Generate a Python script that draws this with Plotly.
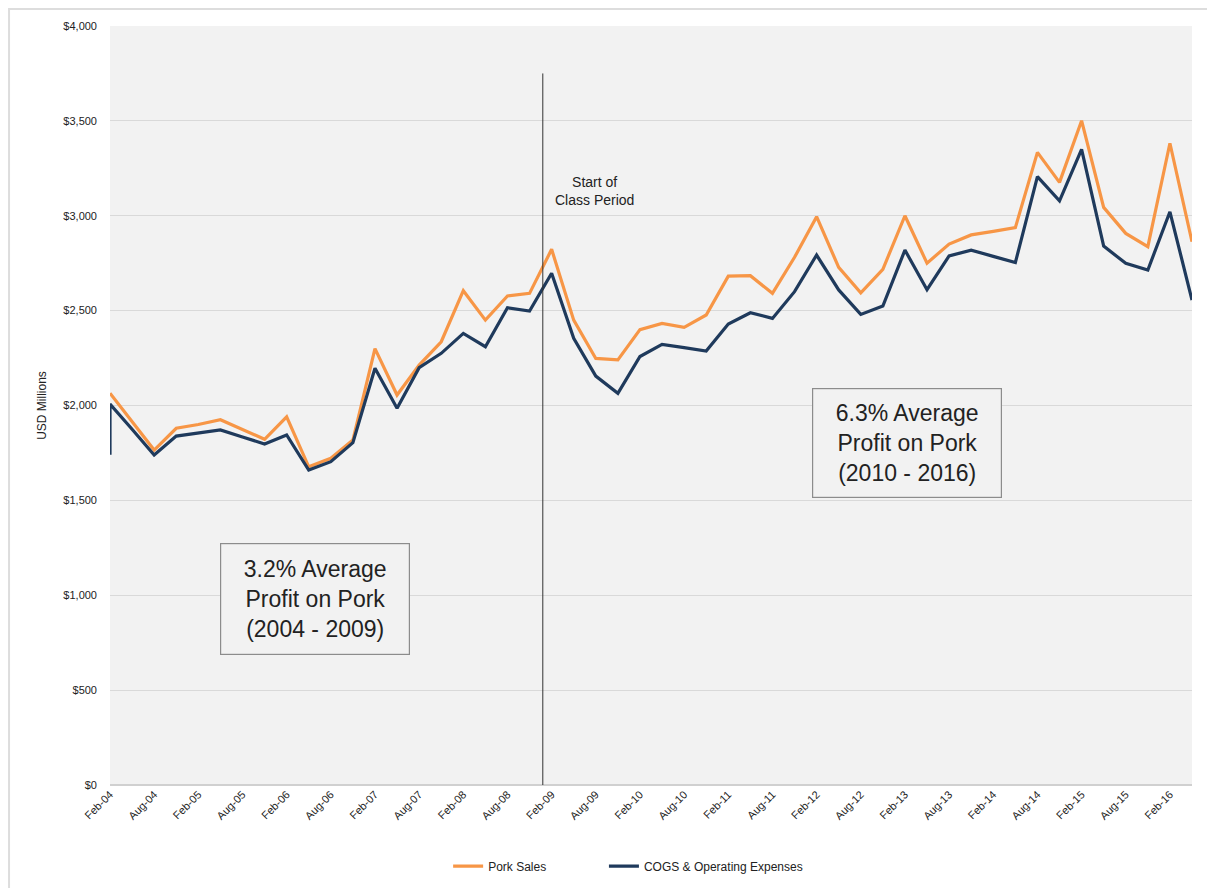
import plotly.graph_objects as go

# ---- data ----
months = ["Feb", "May", "Aug", "Nov"]
quarters = [f"{m}-{y:02d}" for y in range(4, 17) for m in months][:50]

pork_sales = [2065, 1915, 1765, 1880, 1900, 1925, 1873, 1822, 1940, 1677,
              1722, 1818, 2300, 2055, 2213, 2336, 2605, 2450, 2577, 2591,
              2823, 2450, 2248, 2240, 2400, 2433, 2412, 2477, 2682, 2684,
              2591, 2781, 2995, 2728, 2594, 2718, 3000, 2750, 2851, 2899,
              2918, 2937, 3334, 3176, 3501, 3044, 2907, 2837, 3382, 2863]

cogs_start = 1740
cogs = [2008, 1875, 1739, 1839, 1853, 1871, 1834, 1797, 1845, 1660,
        1704, 1804, 2196, 1985, 2199, 2275, 2380, 2310, 2515, 2498,
        2697, 2354, 2155, 2064, 2258, 2322, 2305, 2287, 2429, 2489,
        2459, 2600, 2793, 2609, 2480, 2524, 2819, 2610, 2788, 2819,
        2786, 2753, 3206, 3079, 3350, 2840, 2749, 2714, 3021, 2556]

tick_labels = quarters[::2]
y_ticks = [0, 500, 1000, 1500, 2000, 2500, 3000, 3500, 4000]
y_tick_text = ["$" + f"{v:,}" for v in y_ticks]

class_start_pos = 19.6
class_line_top = 3750

FONT = "Liberation Sans Narrow, Arial Narrow, Liberation Sans, Arial, sans-serif"
ORANGE = "#F79646"
NAVY = "#1F3A5C"

fig = go.Figure()
fig.add_trace(go.Scatter(
    x=quarters, y=pork_sales, mode="lines", name="Pork Sales",
    line=dict(color=ORANGE, width=3.2), legend="legend"))
fig.add_trace(go.Scatter(
    x=[quarters[0]] + quarters, y=[cogs_start] + cogs, mode="lines",
    name="COGS & Operating Expenses",
    line=dict(color=NAVY, width=3.2), legend="legend2"))

legend_style = dict(orientation="h", y=-0.107, xanchor="left",
                    yanchor="middle", font=dict(size=12, color="#222222"),
                    bgcolor="rgba(0,0,0,0)")

fig.update_layout(
    width=1207, height=880,
    margin=dict(l=102, r=23, t=18, b=103, autoexpand=False),
    paper_bgcolor="white",
    plot_bgcolor="#F2F2F2",
    font=dict(family=FONT, color="#222222", size=11),
    showlegend=True,
    legend=dict(x=0.3125, **legend_style),
    legend2=dict(x=0.4565, **legend_style),
    xaxis=dict(
        type="category", categoryorder="array", categoryarray=quarters,
        range=[0, len(quarters) - 1], automargin=False,
        tickmode="array", tickvals=tick_labels, ticktext=tick_labels,
        tickangle=-45, tickfont=dict(size=11, color="#222222"),
        showgrid=False, zeroline=False, showline=False, ticks=""),
    yaxis=dict(
        range=[0, 4000], tickmode="array", tickvals=y_ticks, automargin=False,
        ticktext=y_tick_text, tickfont=dict(size=11, color="#222222"),
        showgrid=True, gridcolor="#D9D9D9", gridwidth=1.3,
        zeroline=True, zerolinecolor="#D0D0D0", zerolinewidth=2,
        ticks="", ticklabelstandoff=12,
        title=dict(text="USD Millions", font=dict(size=12, color="#222222"),
                   standoff=14)),
)

# vertical marker line
fig.add_shape(type="line", xref="x", yref="y",
              x0=class_start_pos, x1=class_start_pos, y0=0, y1=class_line_top,
              line=dict(color="#333333", width=1))

# outer frame
fig.add_shape(type="rect", xref="paper", yref="paper",
              x0=-0.0933, x1=1.06, y0=-0.3, y1=1.0224,
              line=dict(color="#DDDDDD", width=2))

fig.add_annotation(x=21.95, y=3130, xref="x", yref="y",
                   text="Start of<br>Class Period", showarrow=False,
                   font=dict(size=14, color="#222222", family=FONT),
                   align="center")

fig.add_annotation(x=9.28, y=980, xref="x", yref="y",
                   text="3.2% Average<br>Profit on Pork<br>(2004 - 2009)",
                   showarrow=False, width=186, height=108,
                   font=dict(size=23, color="#222222", family=FONT),
                   align="center", bordercolor="#8C8C8C", borderwidth=1.2,
                   borderpad=1, bgcolor="#F2F2F2")

fig.add_annotation(x=36.1, y=1805, xref="x", yref="y",
                   text="6.3% Average<br>Profit on Pork<br>(2010 - 2016)",
                   showarrow=False, width=186, height=106,
                   font=dict(size=23, color="#222222", family=FONT),
                   align="center", bordercolor="#8C8C8C", borderwidth=1.2,
                   borderpad=1, bgcolor="#F2F2F2")

fig.write_html("out.html")
